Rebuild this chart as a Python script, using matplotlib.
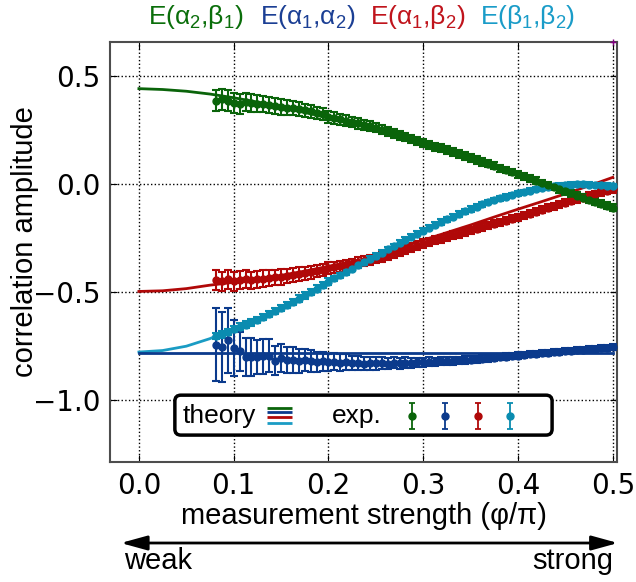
import numpy as np
import matplotlib
matplotlib.use('Agg')
import matplotlib.pyplot as plt
from matplotlib.patches import FancyBboxPatch, FancyArrowPatch

plt.rcParams['mathtext.fontset'] = 'custom'
plt.rcParams['mathtext.rm'] = 'Liberation Sans'
plt.rcParams['mathtext.it'] = 'Liberation Sans'
plt.rcParams['mathtext.bf'] = 'Liberation Sans:bold'

# measurement strength phi/pi, experiment on a pi/160 grid, theory every 0.025
x_exp = np.arange(13, 81) / 160.0
x_th = np.linspace(0.0, 0.5, 21)

# E(a2,b1)
green_exp = [0.385, 0.39, 0.385, 0.372, 0.37, 0.378, 0.375, 0.37, 0.368, 0.365, 0.36,
             0.355, 0.352, 0.35, 0.345, 0.34, 0.335, 0.328, 0.322, 0.31,
             0.304, 0.298, 0.291, 0.285, 0.279, 0.273, 0.266, 0.26,
             0.251, 0.243, 0.234, 0.225, 0.216, 0.208, 0.199, 0.19,
             0.181, 0.172, 0.164, 0.155, 0.146, 0.138, 0.129, 0.12,
             0.111, 0.101, 0.092, 0.083, 0.073, 0.064, 0.055, 0.045,
             0.035, 0.025, 0.015, 0.005, -0.005, -0.015, -0.025, -0.035,
             -0.044, -0.054, -0.063, -0.073, -0.082, -0.091, -0.101, -0.11]
green_err = [0.05, 0.05, 0.048, 0.046, 0.045, 0.043, 0.042, 0.04, 0.038, 0.037, 0.036,
             0.035, 0.034, 0.033, 0.032, 0.031, 0.03, 0.029, 0.028, 0.027,
             0.026, 0.025, 0.025, 0.024, 0.024, 0.023, 0.023, 0.022,
             0.022, 0.021, 0.021, 0.02, 0.02, 0.02, 0.019, 0.019,
             0.019, 0.018, 0.018, 0.018, 0.018, 0.017, 0.017, 0.017,
             0.017, 0.017, 0.016, 0.016, 0.016, 0.016, 0.016, 0.016,
             0.016, 0.015, 0.015, 0.015, 0.015, 0.015, 0.015, 0.015,
             0.015, 0.015, 0.015, 0.015, 0.015, 0.015, 0.015, 0.015]
green_th = [0.44, 0.436, 0.428, 0.415, 0.398, 0.378, 0.355, 0.33, 0.305, 0.278, 0.25,
            0.221, 0.19, 0.157, 0.122, 0.085, 0.047, 0.008, -0.032, -0.072, -0.112]

# E(a1,a2)
blue_exp = [-0.743, -0.754, -0.723, -0.759, -0.774, -0.8, -0.8, -0.8, -0.797, -0.794, -0.817, -0.805,
            -0.812, -0.812, -0.82, -0.815, -0.818, -0.822, -0.82, -0.825,
            -0.822, -0.826, -0.824, -0.828, -0.826, -0.83, -0.828, -0.829,
            -0.828, -0.83, -0.827, -0.829, -0.826, -0.828, -0.825, -0.824,
            -0.822, -0.823, -0.82, -0.818, -0.819, -0.816, -0.814, -0.812,
            -0.81, -0.808, -0.806, -0.803, -0.801, -0.798, -0.796, -0.793,
            -0.79, -0.788, -0.785, -0.783, -0.78, -0.778, -0.776, -0.773,
            -0.771, -0.769, -0.767, -0.765, -0.763, -0.76, -0.758, -0.755]
blue_err = [0.17, 0.16, 0.15, 0.13, 0.09, 0.09, 0.09, 0.08, 0.08, 0.075, 0.066, 0.065,
            0.06, 0.06, 0.055, 0.05, 0.05, 0.045, 0.045, 0.04,
            0.04, 0.038, 0.036, 0.034, 0.033, 0.032, 0.03, 0.029,
            0.028, 0.027, 0.026, 0.025, 0.024, 0.023, 0.022, 0.021,
            0.02, 0.02, 0.019, 0.019, 0.018, 0.018, 0.017, 0.017,
            0.016, 0.016, 0.016, 0.015, 0.015, 0.015, 0.015, 0.015,
            0.014, 0.014, 0.014, 0.014, 0.014, 0.014, 0.014, 0.014,
            0.014, 0.014, 0.014, 0.014, 0.014, 0.014, 0.014, 0.014]
blue_th = [-0.78] * 21

# E(a1,b2)
red_exp = [-0.445, -0.45, -0.44, -0.45, -0.445, -0.44, -0.445, -0.44, -0.438, -0.435, -0.432, -0.43,
           -0.426, -0.422, -0.418, -0.413, -0.408, -0.402, -0.396, -0.39,
           -0.385, -0.38, -0.375, -0.37, -0.364, -0.358, -0.352, -0.345,
           -0.337, -0.329, -0.32, -0.312, -0.303, -0.294, -0.285, -0.276,
           -0.268, -0.261, -0.253, -0.246, -0.238, -0.231, -0.223, -0.215,
           -0.207, -0.2, -0.192, -0.185, -0.177, -0.17, -0.162, -0.155,
           -0.146, -0.137, -0.128, -0.12, -0.111, -0.103, -0.095, -0.087,
           -0.079, -0.071, -0.063, -0.055, -0.047, -0.039, -0.032, -0.025]
red_err = [0.045, 0.045, 0.044, 0.043, 0.042, 0.041, 0.04, 0.039, 0.038, 0.037, 0.036, 0.035,
           0.034, 0.033, 0.032, 0.031, 0.03, 0.029, 0.028, 0.027,
           0.026, 0.025, 0.025, 0.024, 0.024, 0.023, 0.023, 0.022,
           0.022, 0.021, 0.021, 0.02, 0.02, 0.02, 0.019, 0.019,
           0.019, 0.018, 0.018, 0.018, 0.018, 0.017, 0.017, 0.017,
           0.017, 0.017, 0.016, 0.016, 0.016, 0.016, 0.016, 0.016,
           0.016, 0.016, 0.016, 0.016, 0.016, 0.016, 0.016, 0.016,
           0.016, 0.016, 0.016, 0.016, 0.016, 0.016, 0.016, 0.016]
red_th = [-0.497, -0.494, -0.484, -0.468, -0.455, -0.44, -0.423, -0.403, -0.381, -0.358, -0.335,
          -0.297, -0.26, -0.225, -0.19, -0.153, -0.117, -0.082, -0.046, -0.009, 0.03]

# E(b1,b2)
cyan_exp = [-0.703, -0.695, -0.685, -0.67, -0.66, -0.65, -0.64, -0.628, -0.615, -0.602, -0.588, -0.574,
            -0.56, -0.545, -0.53, -0.515, -0.5, -0.484, -0.468, -0.452,
            -0.437, -0.422, -0.407, -0.392, -0.377, -0.362, -0.347, -0.333,
            -0.318, -0.303, -0.288, -0.273, -0.258, -0.244, -0.23, -0.216,
            -0.202, -0.189, -0.176, -0.163, -0.151, -0.139, -0.127, -0.116,
            -0.105, -0.095, -0.085, -0.076, -0.067, -0.059, -0.051, -0.044,
            -0.037, -0.031, -0.025, -0.02, -0.015, -0.011, -0.008, -0.005,
            -0.003, -0.002, -0.002, -0.003, -0.004, -0.006, -0.008, -0.01]
cyan_err = [0.015] * 20 + [0.012] * 24 + [0.01] * 24
cyan_th = [-0.777, -0.77, -0.75, -0.715, -0.668, -0.622, -0.572, -0.512, -0.452, -0.392, -0.333,
           -0.273, -0.216, -0.163, -0.116, -0.076, -0.044, -0.02, -0.005, 0.0, 0.0]

c_green, c_blue, c_red, c_cyan = '#0a640a', '#0b3a8c', '#b00808', '#0a8cb0'
c_cyan_th = '#1a9cc4'

fig = plt.figure(figsize=(6.36, 5.82), dpi=100)
ax = fig.add_axes([0.1737, 0.2062, 0.7972, 0.7222])

ax.plot(x_th, green_th, color=c_green, lw=2, zorder=2)
ax.plot(x_th, red_th, color=c_red, lw=2, zorder=2)
ax.plot(x_th, cyan_th, color=c_cyan_th, lw=2, zorder=2)

eb = dict(fmt='o', ms=5, elinewidth=1.5, capsize=3, capthick=1.5)
ax.errorbar(x_exp, blue_exp, yerr=blue_err, color=c_blue, zorder=3, **eb)
ax.errorbar(x_exp, red_exp, yerr=red_err, color=c_red, zorder=3, **eb)
ax.errorbar(x_exp, cyan_exp, yerr=cyan_err, color=c_cyan, zorder=3, **eb)
ax.errorbar(x_exp, green_exp, yerr=green_err, color=c_green, zorder=3, **eb)
ax.plot(x_th, blue_th, color=c_blue, lw=2, zorder=4)
ax.plot([0.5], [0.655], marker='+', color='#800080', ms=4, clip_on=False, zorder=5)

ax.set_xlim(-0.03, 0.505)
ax.set_ylim(-1.285, 0.657)
ax.set_xticks([0.0, 0.1, 0.2, 0.3, 0.4, 0.5])
ax.set_yticks([-1.0, -0.5, 0.0, 0.5])
ax.grid(True, color='black', linestyle=':', linewidth=1)
ax.tick_params(direction='in', top=True, right=True, length=5, labelsize=20, pad=7)
for s in ax.spines.values():
    s.set_color('0.3')
    s.set_linewidth(1.5)

ax.set_xlabel('measurement strength (φ/π)', labelpad=2,
              fontfamily='Liberation Sans', fontsize=21)
ax.set_ylabel('correlation amplitude', fontfamily='Liberation Sans', fontsize=21)
ax.yaxis.set_label_coords(-0.14, 0.525)

titles = [r'E($\alpha_2$,$\beta_1$)', r'E($\alpha_1$,$\alpha_2$)',
          r'E($\alpha_1$,$\beta_2$)', r'E($\beta_1$,$\beta_2$)']
tcols = ['#0a6e0a', '#1b3f94', '#c0141c', '#1a9cc8']
for xt, t, c in zip([0.307, 0.484, 0.657, 0.830], titles, tcols):
    fig.text(xt, 0.971, t, color=c, ha='center', va='center',
             fontfamily='Liberation Sans', fontsize=19)

# legend box
lg = ax.inset_axes([0.127, 0.064, 0.744, 0.095])
lg.set_xlim(0, 1)
lg.set_ylim(0, 1)
lg.axis('off')
lg.add_patch(FancyBboxPatch((0, 0), 1, 1, boxstyle='round,pad=0,rounding_size=0.016',
                            mutation_aspect=9.4, fc='white', ec='black', lw=2.5,
                            transform=lg.transAxes, clip_on=False, zorder=0))
lg.text(0.021, 0.3, 'theory', ha='left', va='baseline', fontfamily='Liberation Sans', fontsize=19)
for yy, c in zip([0.683, 0.568, 0.443, 0.308], [c_green, c_blue, c_red, c_cyan_th]):
    lg.plot([0.244, 0.31], [yy, yy], color=c, lw=2, solid_capstyle='butt')
lg.text(0.416, 0.3, 'exp.', ha='left', va='baseline', fontfamily='Liberation Sans', fontsize=19)
for xx, c in zip([0.629, 0.716, 0.804, 0.889], [c_green, c_blue, c_red, c_cyan]):
    lg.errorbar([xx], [0.475], yerr=[0.333], color=c, fmt='o', ms=5,
                elinewidth=1.3, capsize=2.5, capthick=1.3)

# weak / strong arrow
fig.patches.append(FancyArrowPatch((0.1855, 0.067), (0.976, 0.067), transform=fig.transFigure,
                                   arrowstyle='<|-|>,head_length=0.8,head_width=0.22',
                                   mutation_scale=20, lw=2, color='black'))
fig.text(0.195, 0.036, 'weak', ha='left', va='center', fontfamily='Liberation Sans', fontsize=21)
fig.text(0.964, 0.036, 'strong', ha='right', va='center', fontfamily='Liberation Sans', fontsize=21)

fig.savefig('out.png', dpi=100)
